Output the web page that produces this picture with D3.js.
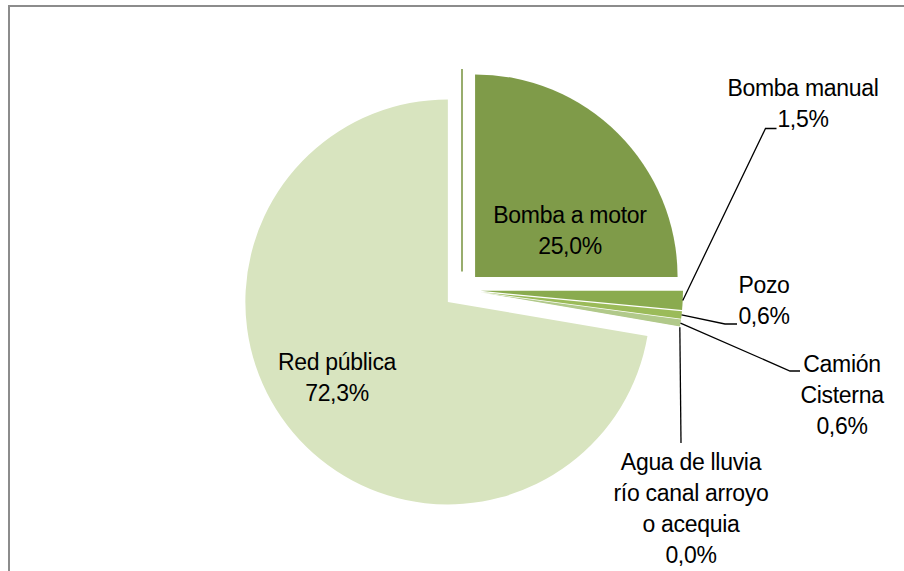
<!DOCTYPE html>
<html>
<head>
<meta charset="utf-8">
<script src="https://cdn.jsdelivr.net/npm/d3@7"></script>
<style>
  body { margin: 0; background: #fff; }
  svg { display: block; }
  text { font-family: "Liberation Sans", Arial, sans-serif; font-size: 23px; fill: #000; letter-spacing: -0.3px; }
</style>
</head>
<body>
<svg id="chart"></svg>
<script>
var width = 904,
    height = 571;

// data (clockwise from 12 o'clock, as in the original)
var categories = ["Bomba a motor", "Bomba manual", "Pozo", "Camión Cisterna", "Agua de lluvia río canal arroyo o acequia", "Red pública", ""];
var percents = [25.0, 1.5, 0.6, 0.6, 0.0, 72.3, 0.0];
var labelLines = [
  ["Bomba a motor", "25,0%"],
  ["Bomba manual", "1,5%"],
  ["Pozo", "0,6%"],
  ["Camión", "Cisterna", "0,6%"],
  ["Agua de lluvia", "río canal arroyo", "o acequia", "0,0%"],
  ["Red pública", "72,3%"],
  []
];
var colors = ["#7f9b49", "#8aab4f", "#9bbb59", "#b1c98a", "#ffffff", "#d8e4bf", "#76923c"];

// layout: label positions (centre x, first baseline) and leader elbows
var labelPos = [[570, 223], [803, 96], [764, 293], [842, 372], [691, 470], [337, 370], null];
var leaderElbow = [
  null,
  [[765.5, 128.5], [776.5, 128.5]],
  [[725, 324], [737, 324]],
  [[790, 371], [800, 371]],
  [[681, 443]],
  null,
  null
];

var cx = 462, cy = 290,
    radius = 202.5,
    explode = 18.5,
    lineGap = 31;

var svg = d3.select('#chart')
            .attr('width', width)
            .attr('height', height);

// chart frame (only top and left edges are inside the picture)
svg.append('rect')
    .attr('x', 9).attr('y', 6)
    .attr('width', 1000).attr('height', 1000)
    .attr('fill', 'none')
    .attr('stroke', '#8c8c8c')
    .attr('stroke-width', 2);

var pie = d3.pie()
            .sort(null)
            .value(d => d);

var arc = d3.arc()
            .innerRadius(0)
            .outerRadius(radius);

var arcsData = pie(percents);

function midAngle(d){ return (d.startAngle + d.endAngle) / 2; }
function offset(d, dist){
  var a = midAngle(d);
  return [Math.sin(a) * dist, -Math.cos(a) * dist];
}

var g = svg.append('g')
           .attr('transform', 'translate(' + cx + ',' + cy + ')');

// slices, each pulled out along its middle angle
g.selectAll('.slice')
  .data(arcsData.filter(d => d.value > 0))
  .enter()
  .append('path')
    .classed('slice', true)
    .attr('fill', d => colors[d.index])
    .attr('transform', d => 'translate(' + offset(d, explode) + ')')
    .attr('d', arc);

// zero slices show up only as a line
g.selectAll('.zero')
  .data(arcsData.filter(d => d.value === 0))
  .enter()
  .append('line')
    .classed('zero', true)
    .attr('x1', d => offset(d, explode)[0])
    .attr('y1', d => offset(d, explode)[1])
    .attr('x2', d => offset(d, explode + radius)[0])
    .attr('y2', d => offset(d, explode + radius)[1])
    .attr('stroke', d => colors[d.index])
    .attr('stroke-width', 1.5);

// leader lines from the slice edge to the label
svg.selectAll('.leader')
  .data(arcsData.filter(d => leaderElbow[d.index]))
  .enter()
  .append('polyline')
    .classed('leader', true)
    .attr('fill', 'none')
    .attr('stroke', '#000')
    .attr('stroke-width', 1.3)
    .attr('points', d => {
      var p = offset(d, explode + radius);
      var pts = [[cx + p[0], cy + p[1]]].concat(leaderElbow[d.index]);
      return pts.map(q => q.join(',')).join(' ');
    });

// labels
var labels = svg.selectAll('.label')
  .data(arcsData.filter(d => labelPos[d.index]))
  .enter()
  .append('text')
    .classed('label', true)
    .attr('text-anchor', 'middle');

labels.selectAll('tspan')
  .data(d => labelLines[d.index].map((t, i) => ({t: t, i: i, k: d.index})))
  .enter()
  .append('tspan')
    .attr('x', d => labelPos[d.k][0])
    .attr('y', d => labelPos[d.k][1] + d.i * lineGap)
    .text(d => d.t);
</script>
</body>
</html>
